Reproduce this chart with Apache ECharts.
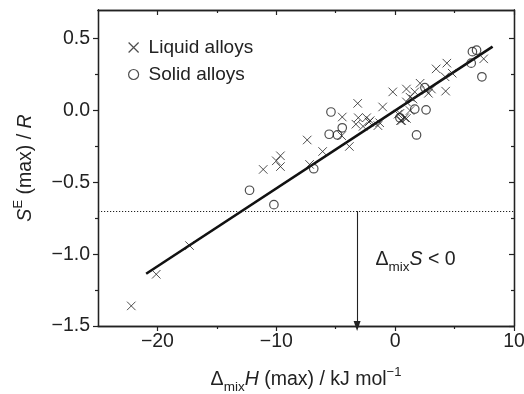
<!DOCTYPE html>
<html><head><meta charset="utf-8">
<script src="https://cdn.jsdelivr.net/npm/echarts@6/dist/echarts.min.js"></script>
<style>html,body{margin:0;padding:0;background:#fff}#c{width:524px;height:394px}</style>
</head><body><div id="c"></div>
<script>
const liquidAlloys = [
  [-22.2,-1.36],[-20.1,-1.14],[-17.3,-0.94],[-11.1,-0.41],[-10.0,-0.35],[-9.65,-0.315],[-9.65,-0.39],
  [-7.4,-0.205],[-7.2,-0.375],[-6.1,-0.285],[-4.45,-0.045],[-4.5,-0.175],[-3.85,-0.25],
  [-3.15,0.05],[-3.1,-0.05],[-3.3,-0.095],[-2.4,-0.05],[-2.2,-0.08],[-2.7,-0.11],[-2.1,-0.07],
  [-1.05,0.025],[-1.3,-0.085],[-1.45,-0.105],[-0.2,0.13],[0.95,0.15],[1.65,0.13],[2.1,0.19],
  [0.95,0.06],[1.25,0.093],[1.5,0.08],[0.25,-0.025],[0.45,-0.07],[0.95,-0.055],[0.55,-0.07],
  [0.8,-0.05],[0.4,-0.02],[1.25,0.0],[2.6,0.14],[3.05,0.15],[2.8,0.12],[3.45,0.29],[4.35,0.33],
  [4.2,0.235],[4.25,0.135],[4.8,0.26],[7.45,0.36]
];
const solidAlloys = [
  [-12.25,-0.555],[-10.2,-0.655],[-6.85,-0.405],[-5.4,-0.01],[-4.45,-0.12],[-5.55,-0.165],
  [-4.85,-0.17],[0.4,-0.05],[1.65,0.01],[2.6,0.005],[1.8,-0.17],[2.5,0.16],[6.4,0.33],
  [6.5,0.41],[6.85,0.42],[7.3,0.235]
];
const fitLine = [[-20.95,-1.136],[8.2,0.445]];
const xMajorTicks = [-20,-10,0,10];
const xMinorTicks = [-15,-5,5];
const yMajorTicks = [-1.5,-1.0,-0.5,0.0,0.5];
const yMinorTicks = [-1.25,-0.75,-0.25,0.25];
const xRange = [-25,10];
const yRange = [-1.5,0.7];
const dottedLevel = -0.7;
const arrowX = -3.2;
const annotationAt = [-1.65,-1.04];

const INK = '#222';
const FONT = 'Liberation Sans';
const FS = 19.5;
const cross = 'path://M0,0L10,10M10,0L0,10';
const fmtNum = (v, d) => { const s = Math.abs(v).toFixed(d); return v < 0 ? '\u2212' + s : s; };

function xAx(grid, pos, ticks, len, inside, labels) {
  return {type:'value', gridIndex:grid, position:pos, min:xRange[0], max:xRange[1],
    axisLine:{show:true, onZero:false, lineStyle:{color:INK, width:1.3}},
    axisTick:{show:true, inside:inside, length:len, customValues:ticks, lineStyle:{color:INK, width:1.2}},
    axisLabel:labels ? {show:true, customValues:ticks, formatter:v => fmtNum(v,0), color:INK, fontFamily:FONT, fontSize:FS, margin:6} : {show:false},
    splitLine:{show:false}};
}
function yAx(grid, pos, ticks, len, inside, labels) {
  return {type:'value', gridIndex:grid, position:pos, min:yRange[0], max:yRange[1],
    axisLine:{show:true, onZero:false, lineStyle:{color:INK, width:1.3}},
    axisTick:{show:true, inside:inside, length:len, customValues:ticks, lineStyle:{color:INK, width:1.2}},
    axisLabel:labels ? {show:true, customValues:ticks, formatter:v => fmtNum(v,1), color:INK, fontFamily:FONT, fontSize:FS, margin:8} : {show:false},
    splitLine:{show:false}};
}
const gridRect = {left:98, right:10, top:10, bottom:68, outerBoundsMode:'none', containLabel:false};
const xa0 = xAx(0,'bottom',xMajorTicks,5,false,true);
xa0.name = '{d|\u0394}{sub|mix}{i|H} (max) / kJ mol{sup|\u22121}';
xa0.nameLocation = 'middle'; xa0.nameGap = 40;
xa0.nameTextStyle = {color:INK, fontFamily:FONT, fontSize:FS, rich:{
  d:{fontSize:FS, fontFamily:FONT, color:INK},
  sub:{fontSize:13.5, fontFamily:FONT, color:INK, verticalAlign:'bottom', lineHeight:28},
  i:{fontSize:FS, fontStyle:'italic', fontFamily:FONT, color:INK},
  sup:{fontSize:13, fontFamily:FONT, color:INK, verticalAlign:'top', lineHeight:28}}};
const ya0 = yAx(0,'left',yMajorTicks,5,false,true);
ya0.name = '{i|S}{sup|E} (max) / {i|R}';
ya0.nameLocation = 'middle'; ya0.nameGap = 58; ya0.nameRotate = 90;
ya0.nameTextStyle = {color:INK, fontFamily:FONT, fontSize:FS, rich:{
  i:{fontSize:FS, fontStyle:'italic', fontFamily:FONT, color:INK},
  sup:{fontSize:13, fontFamily:FONT, color:INK, verticalAlign:'top', lineHeight:28}}};

const chart = echarts.init(document.getElementById('c'), null, {renderer:'canvas'});
chart.setOption({
  animation:false,
  backgroundColor:'#fff',
  textStyle:{fontFamily:FONT, color:INK},
  grid:[Object.assign({}, gridRect), Object.assign({}, gridRect)],
  xAxis:[xa0, xAx(0,'top',xMajorTicks,5,true,false), xAx(1,'bottom',xMinorTicks,3,false,false), xAx(1,'top',xMinorTicks,3,true,false)],
  yAxis:[ya0, yAx(0,'right',yMajorTicks,5,true,false), yAx(1,'left',yMinorTicks,3,false,false), yAx(1,'right',yMinorTicks,3,true,false)],
  legend:{orient:'vertical', left:123, top:33, itemWidth:10, itemHeight:10, itemGap:8, padding:[5,5],
    textStyle:{fontFamily:FONT, fontSize:19, color:INK, padding:[0,0,0,5]},
    data:[
      {name:'Liquid alloys', icon:cross, itemStyle:{color:'transparent', borderColor:INK, borderWidth:1.2}},
      {name:'Solid alloys', icon:'circle', itemStyle:{color:'transparent', borderColor:INK, borderWidth:1.2}}
    ]},
  series:[
    {name:'fit', type:'line', xAxisIndex:0, yAxisIndex:0, data:fitLine, symbol:'none', silent:true,
      lineStyle:{color:'#111', width:2.6}, z:3,
      markLine:{silent:true, symbol:'none', label:{show:false}, animation:false,
        data:[
          [{coord:[xRange[0],dottedLevel], lineStyle:{type:[1.2,1.8], color:INK, width:1}}, {coord:[xRange[1],dottedLevel]}],
          [{coord:[arrowX,dottedLevel], symbol:'none', lineStyle:{type:'solid', color:INK, width:1.1}}, {coord:[arrowX,yRange[0]], symbol:'triangle', symbolSize:[7,10], symbolRotate:180}]
        ]},
      markPoint:{silent:true, symbol:'circle', symbolSize:0, animation:false,
        data:[{coord:annotationAt, label:{show:true, position:'right', distance:0,
          formatter:'{d|\u0394}{sub|mix}{i|S} < 0',
          rich:{d:{fontSize:FS, fontFamily:FONT, color:INK},
                sub:{fontSize:13.5, fontFamily:FONT, color:INK, verticalAlign:'bottom', lineHeight:28},
                i:{fontSize:FS, fontStyle:'italic', fontFamily:FONT, color:INK}},
          fontSize:FS, fontFamily:FONT, color:INK}}]}},
    {name:'Liquid alloys', type:'scatter', xAxisIndex:0, yAxisIndex:0, data:liquidAlloys,
      symbol:cross, symbolSize:8.5, itemStyle:{color:'transparent', borderColor:INK, borderWidth:1}, z:4},
    {name:'Solid alloys', type:'scatter', xAxisIndex:0, yAxisIndex:0, data:solidAlloys,
      symbol:'circle', symbolSize:8.5, itemStyle:{color:'transparent', borderColor:INK, borderWidth:1.2}, z:4}
  ]
});
</script></body></html>
